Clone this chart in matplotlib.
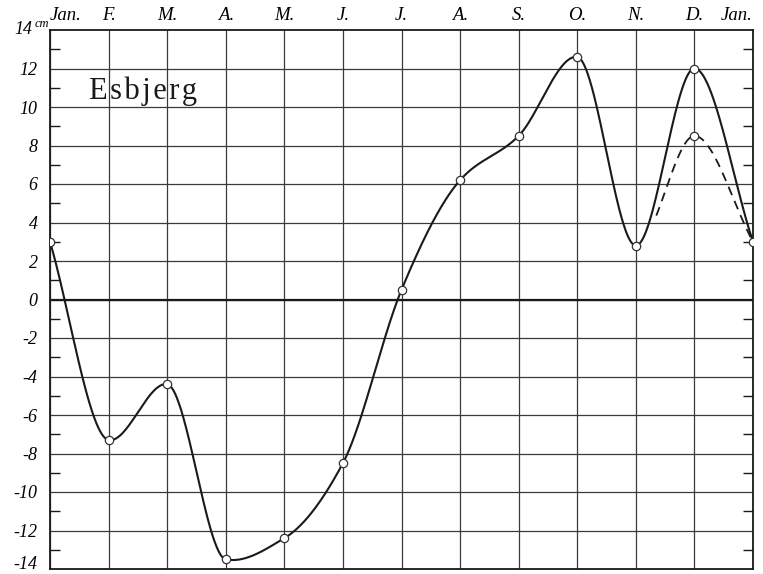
import numpy as np
import matplotlib
matplotlib.use("Agg")
import matplotlib.pyplot as plt

months = ["Jan.", "F.", "M.", "A.", "M.", "J.", "J.", "A.", "S.", "O.", "N.", "D.", "Jan."]
values = [3.0, -7.3, -4.4, -13.5, -12.4, -8.5, 0.5, 6.2, 8.5, 12.6, 2.8, 12.0, 3.0]
alt_months_idx = [10, 11, 12]
alt_values = [2.8, 8.5, 3.0]
yticks = list(range(-14, 13, 2))


def smooth(xs, ys, n=80, ext=0.15):
    xs = np.asarray(xs, float); ys = np.asarray(ys, float)
    d = np.diff(ys) / np.diff(xs)
    m = np.zeros_like(ys)
    m[0] = d[0]; m[-1] = d[-1]
    for i in range(1, len(ys) - 1):
        a, b = d[i - 1], d[i]
        if a * b <= 0:
            m[i] = ext * (a + b) / 2
        else:
            m[i] = 2 * a * b / (a + b) * 1.05
    X, Y = [], []
    for i in range(len(xs) - 1):
        h = xs[i + 1] - xs[i]
        t = np.linspace(0, 1, n, endpoint=False)
        h00 = 2*t**3 - 3*t**2 + 1; h10 = t**3 - 2*t**2 + t
        h01 = -2*t**3 + 3*t**2; h11 = t**3 - t**2
        X.append(xs[i] + t*h)
        Y.append(h00*ys[i] + h10*h*m[i] + h01*ys[i+1] + h11*h*m[i+1])
    X.append([xs[-1]]); Y.append([ys[-1]])
    return np.concatenate(X), np.concatenate(Y)


fig = plt.figure(figsize=(7.63, 5.74), dpi=100)
ax = fig.add_axes([50/763, 1-569/574, 703/763, 539/574])
ax.set_xlim(0, 12)
ax.set_ylim(-14, 14)

ink = "#1a1a1a"
for x in range(13):
    ax.axvline(x, color="#3a3a3a", lw=0.9, zorder=1)
for y in yticks:
    ax.axhline(y, color="#3a3a3a", lw=0.9, zorder=1)
ax.axhline(0, color=ink, lw=1.6, zorder=2)
for s in ax.spines.values():
    s.set_color(ink); s.set_linewidth(1.3)

xs = np.arange(13)
cx, cy = smooth(xs, values)
ax.plot(cx, cy, color=ink, lw=1.5, zorder=3)
ax.plot(xs, values, "o", ms=6, mfc="white", mec="#333333", mew=0.9, zorder=4)

ax_x = [alt_months_idx[0] - 1] + alt_months_idx
ax_y = [values[9]] + alt_values
dx, dy = smooth(ax_x, ax_y)
mask = dx >= 10.35
ax.plot(dx[mask], dy[mask], color=ink, lw=1.3, ls=(0, (5, 3.5)), zorder=3)
ax.plot([11], [alt_values[1]], "o", ms=6, mfc="white", mec="#333333", mew=0.9, zorder=4)

serif = ["Liberation Serif", "DejaVu Serif"]
ax.set_yticks(yticks)
ax.set_yticklabels([str(v) if v >= 0 else "-" + str(-v) for v in yticks],
                   family=serif, style="italic", fontsize=13)
ax.get_yticklabels()[0].set_va("baseline")
ax.set_yticks(list(range(-13, 14, 2)), minor=True)
ax.tick_params(axis="y", which="major", length=0, pad=9)
ax.tick_params(axis="y", which="minor", direction="in", length=7, width=1, color=ink,
               left=True, right=True)
ax.set_xticks(xs)
ax.set_xticklabels(months, family=serif, style="italic", fontsize=13.5)
ax.tick_params(axis="x", top=True, labeltop=True, bottom=False, labelbottom=False,
               length=0, pad=4)
xl = ax.get_xticklabels()
xl[0].set_ha("left")
xl[-1].set_ha("right")

ax.text(-0.3, 14, "14", family=serif, style="italic", fontsize=13, ha="right", va="center")
ax.text(-0.27, 14.3, "cm", family=serif, style="italic", fontsize=9, ha="left", va="center")
ax.text(0.66, 10.8, "E\u200as\u200ab\u200aj\u200ae\u200ar\u200ag", family=serif,
        fontsize=22, ha="left", va="center", color=ink)

fig.savefig("out.png", dpi=100)
